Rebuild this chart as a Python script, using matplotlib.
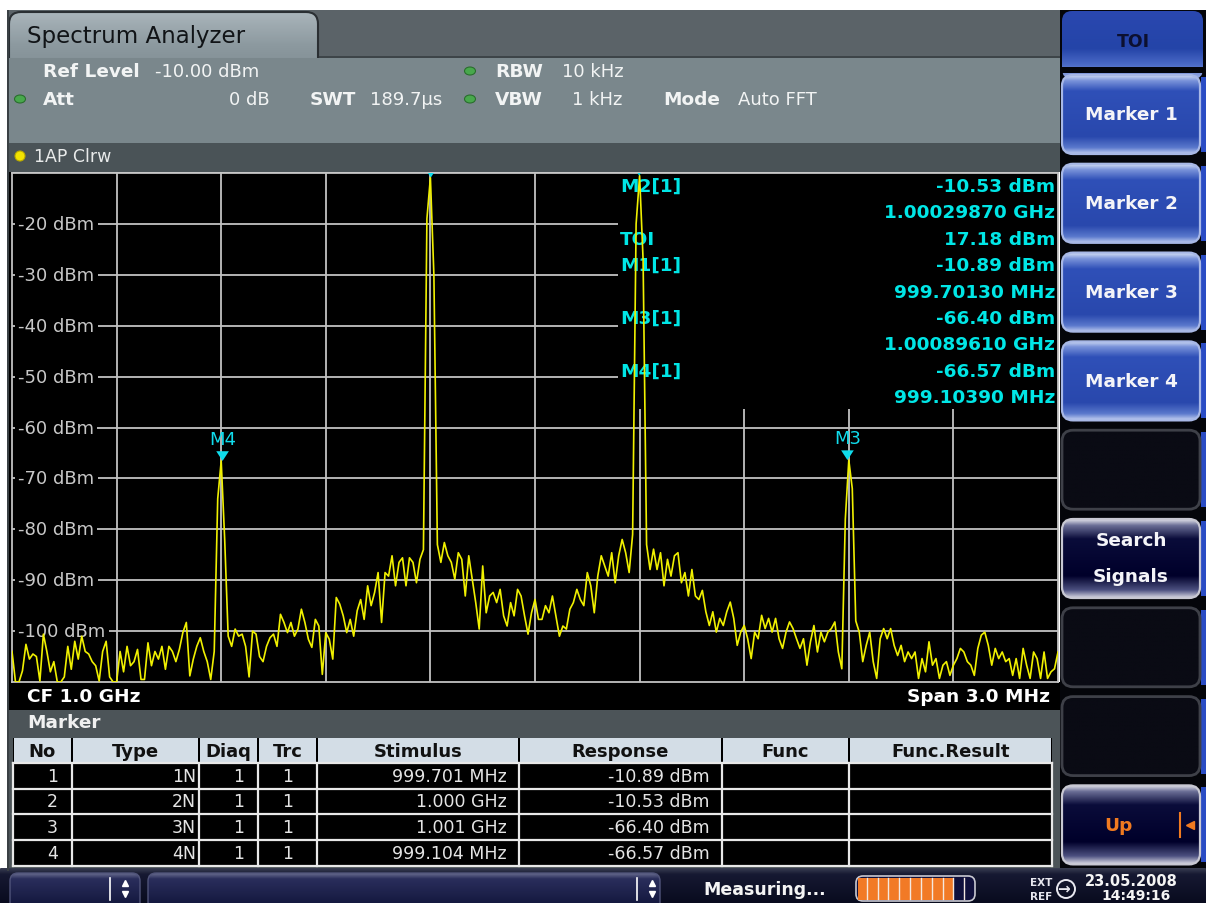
import numpy as np
import matplotlib
matplotlib.use("Agg")
import matplotlib.pyplot as plt
from matplotlib.patches import Rectangle, FancyBboxPatch, Ellipse, Circle
from matplotlib.colors import LinearSegmentedColormap
from matplotlib.transforms import Affine2D
from matplotlib.path import Path
from matplotlib.markers import MarkerStyle

plt.rcParams['font.family'] = ['DejaVu Sans']

# ---------------- data ----------------
center_mhz = 1000.0
span_mhz = 3.0
ref_level_dbm = -10.0
bottom_level_dbm = -110.0
ytick_levels = [-20, -30, -40, -50, -60, -70, -80, -90, -100]

# trace, 301 points, 10 kHz spacing from 998.50 MHz to 1001.50 MHz
trace_dbm = [
    -104, -110, -110, -107.8, -102.6, -105.5, -104.5, -105, -109.8, -100.6,
    -104, -108, -106, -110, -110, -109, -103, -107.5, -102, -105.5,
    -101, -104, -104.5, -106, -106.8, -109.8, -104, -102, -109, -110,
    -110, -104, -108, -103, -106.8, -106, -103.6, -109.5, -109.5, -102.3,
    -106.8, -104, -105.5, -103, -107.5, -103, -104, -106, -103.6, -100.3,
    -98.3, -108.8, -105.5, -103, -101.3, -104, -106, -109.5, -104, -74,
    -66.57, -82, -101, -103, -99.6, -101, -100.6, -103, -109, -100,
    -100.6, -105, -106, -103, -101.3, -100.6, -103, -96.7, -98.3, -100.3,
    -98.3, -101, -99.6, -95.7, -98.3, -101.6, -103.2, -97.7, -99, -108.5,
    -100.3, -101.6, -105.5, -93.4, -94.7, -97, -100.3, -97.7, -101, -96,
    -93.8, -97.7, -91.1, -95, -92.4, -88.5, -98.3, -88.5, -89.2, -85.2,
    -91.1, -86.5, -85.6, -91.1, -85.6, -86.5, -90.5, -85.9, -84, -19,
    -10.89, -30, -83, -86.5, -82.6, -85.2, -86.5, -89.8, -84.6, -85.9,
    -93.1, -85.2, -89.8, -94.4, -99.6, -87.2, -96.4, -93.1, -92.4, -94.4,
    -91.8, -97, -99, -94.4, -97, -91.8, -93.1, -97, -100.6, -96.4,
    -93.8, -97.7, -97.7, -95, -96.4, -93.1, -97, -101, -99, -99.6,
    -95.7, -94.4, -91.8, -93.8, -95, -88.5, -91.1, -96.4, -89.2, -85.2,
    -87.2, -89.2, -84.6, -90.5, -85.2, -82, -84.6, -88.5, -81, -20,
    -10.53, -27, -83, -87.9, -83.9, -87.9, -84.6, -91.1, -85.9, -89.2,
    -85.2, -84.6, -90.5, -88.5, -93.1, -87.9, -93.1, -93.8, -92, -96.2,
    -98.9, -96.2, -100.2, -97.5, -98.9, -96.2, -94.3, -97.5, -102.8, -100.2,
    -98.9, -101.5, -105.4, -100.2, -101.5, -96.9, -99.5, -97.5, -100.2, -97.5,
    -101.5, -103.4, -100.2, -98.2, -99.5, -101.5, -103.4, -101.5, -106.7, -102.1,
    -98.9, -104.1, -100.2, -102.1, -100.2, -99.5, -98.2, -104.1, -107.4, -78,
    -66.4, -72, -98, -100.2, -106, -102.8, -100.2, -106, -109.3, -101.5,
    -99.5, -101.5, -99.5, -102.8, -104.8, -102.8, -106, -104.1, -105.4, -104.1,
    -109.3, -105.4, -108, -102.1, -106.7, -105.4, -109.3, -106.7, -106, -108.7,
    -106.7, -105.4, -103.4, -104.1, -106, -106.7, -108.7, -103.4, -100.8, -100.2,
    -102.8, -106.7, -103.4, -105.4, -104.1, -106, -105.4, -108.7, -105.4, -109.3,
    -103.4, -106.7, -109.3, -104.1, -105.4, -109.3, -104.1, -109.3, -108, -107.4,
    -104.1,
]

marker_names = ["M1", "M2", "M3", "M4"]
marker_freq_mhz = [999.7013, 1000.2987, 1000.8961, 999.1039]
marker_dbm = [-10.89, -10.53, -66.40, -66.57]

info_labels = ["M2[1]", "", "TOI", "M1[1]", "", "M3[1]", "", "M4[1]", ""]
info_values = ["-10.53 dBm", "1.00029870 GHz", "17.18 dBm", "-10.89 dBm",
               "999.70130 MHz", "-66.40 dBm", "1.00089610 GHz", "-66.57 dBm",
               "999.10390 MHz"]

table_header = ["No", "Type", "Diaq", "Trc", "Stimulus", "Response", "Func", "Func.Result"]
tbl_no = ["1", "2", "3", "4"]
tbl_type = ["1N", "2N", "3N", "4N"]
tbl_diag = ["1", "1", "1", "1"]
tbl_trc = ["1", "1", "1", "1"]
tbl_stim = ["999.701 MHz", "1.000 GHz", "1.001 GHz", "999.104 MHz"]
tbl_resp = ["-10.89 dBm", "-10.53 dBm", "-66.40 dBm", "-66.57 dBm"]
tbl_func = ["", "", "", ""]
tbl_fres = ["", "", "", ""]

softkeys = ["Marker 1", "Marker 2", "Marker 3", "Marker 4", "", "Search\nSignals", "", "", "Up"]
softkey_kind = ["blue", "blue", "blue", "blue", "empty", "navy", "empty", "empty", "navy"]

progress_segments = 11
progress_done = 9

assert len(trace_dbm) == 301

# ---------------- figure ----------------
W, H = 1206, 904
fig = plt.figure(figsize=(W / 100, H / 100), dpi=100)
fig.patch.set_facecolor('white')
bg = fig.add_axes([0, 0, 1, 1])
bg.axis('off')
P = Affine2D().scale(1.0 / W, -1.0 / H).translate(0, 1) + fig.transFigure


def rect(x0, y0, x1, y1, color, z=1.0):
    bg.add_patch(Rectangle((x0, y0), x1 - x0, y1 - y0, facecolor=color,
                           edgecolor='none', zorder=z))


def gbox(x0, y0, x1, y1, stops, r=8, edge='none', lw=1.0, z=2.0):
    patch = FancyBboxPatch((x0, y0), x1 - x0, y1 - y0,
                           boxstyle=f"round,pad=0,rounding_size={r}",
                           facecolor='none', edgecolor=edge, linewidth=lw, zorder=z + 0.05)
    bg.add_patch(patch)
    cmap = LinearSegmentedColormap.from_list('g', stops)
    grad = np.linspace(0, 1, 256).reshape(-1, 1)
    im = bg.imshow(grad, cmap=cmap, extent=(x0, x1, y1, y0), origin='upper',
                   aspect='auto', zorder=z, interpolation='bilinear')
    im.set_clip_path(patch)
    return patch


def txt(x, y, s, color='white', size=13, weight='normal', ha='left', va='center', z=10, **kw):
    bg.text(x, y, s, color=color, fontsize=size, fontweight=weight, ha=ha, va=va, zorder=z, **kw)


# header area
rect(7, 11, 1060, 59, '#5b6368', 1)
gbox(9, 13, 318, 80, [(0, '#aab5bb'), (0.5, '#8c999f'), (1, '#7d8a90')], r=12,
     edge='#2a2f33', lw=1.5, z=1.5)
rect(7, 57, 1060, 59, '#3d4448', 1.2)
rect(7, 59, 1060, 144, '#7a878c', 2)
rect(7, 144, 1060, 173, '#4a5357', 2)
rect(7, 173, 12, 683, '#000000', 2)
rect(7, 683, 1060, 711, '#000000', 2)
rect(7, 711, 1060, 872, '#4c5458', 2)
rect(7, 11, 9, 872, '#3a4044', 2.1)

txt(27, 37, "Spectrum Analyzer", color='#111417', size=16.5)

# info panel
hdr_color = '#f2f4f4'
txt(43, 72, "Ref Level", weight='bold', size=13.3, color=hdr_color)
txt(155, 72, "-10.00 dBm", size=13, color=hdr_color)
txt(43, 100, "Att", weight='bold', size=13.3, color=hdr_color)
txt(270, 100, "0 dB", size=13, color=hdr_color, ha='right')
txt(310, 100, "SWT", weight='bold', size=13.3, color=hdr_color)
txt(370, 100, "189.7µs", size=13, color=hdr_color)
txt(495, 72, "RBW", weight='bold', size=13.3, color=hdr_color)
txt(562, 72, "10 kHz", size=13, color=hdr_color)
txt(495, 100, "VBW", weight='bold', size=13.3, color=hdr_color)
txt(572, 100, "1 kHz", size=13, color=hdr_color)
txt(663, 100, "Mode", weight='bold', size=13.3, color=hdr_color)
txt(738, 100, "Auto FFT", size=13, color=hdr_color)
for (cx, cy) in [(20, 100), (470, 72), (470, 100)]:
    bg.add_patch(Ellipse((cx, cy), 11, 8, facecolor='#48a84c', edgecolor='#2a6e2e', lw=0.8, zorder=5))
bg.add_patch(Circle((20, 157), 5, facecolor='#f2e200', edgecolor='#b8a800', lw=0.8, zorder=5))
txt(34, 157, "1AP Clrw", size=12.5, color='#e8eaea')

# below the plot
txt(27, 697, "CF 1.0 GHz", weight='bold', size=13.3)
txt(1050, 697, "Span 3.0 MHz", weight='bold', size=13.3, ha='right')
txt(27, 723, "Marker", weight='bold', size=13.3, color='#f0f0f0')

# marker table
cols = [13, 72, 199, 258, 317, 519, 722, 849, 1052]
row_edges = [739, 764, 790, 815, 841, 867]
rect(cols[0], row_edges[0], cols[-1], row_edges[-1], '#000000', 3)
for c0, c1 in zip(cols[:-1], cols[1:]):
    rect(c0 + 1, row_edges[0], c1 - 1, row_edges[1], '#d3dde6', 3.2)
for xc in cols:
    bg.plot([xc, xc], [row_edges[1], row_edges[-1]], color='#e8e8e8', lw=1.6, zorder=3.4)
for yr in row_edges[1:]:
    bg.plot([cols[0], cols[-1]], [yr, yr], color='#e8e8e8', lw=1.6, zorder=3.4)
for k, name in enumerate(table_header):
    txt((cols[k] + cols[k + 1]) / 2, 752, name, color='#111111', weight='bold', size=13, ha='center', z=11)
table_cols = [tbl_no, tbl_type, tbl_diag, tbl_trc, tbl_stim, tbl_resp, tbl_func, tbl_fres]
col_anchor = [('right', -14), ('right', -3), ('right', -14), ('center', 0),
              ('right', -12), ('right', -12), ('right', -12), ('right', -12)]
for k, colvals in enumerate(table_cols):
    ha, off = col_anchor[k]
    for r, val in enumerate(colvals):
        yc = (row_edges[r + 1] + row_edges[r + 2]) / 2
        xa = (cols[k] + cols[k + 1]) / 2 if ha == 'center' else cols[k + 1] + off
        txt(xa, yc, val, color='#e4e4e4', size=12.5, ha=ha, z=11)

# softkey panel
rect(1060, 11, 1206, 872, '#04050a', 1)
gbox(1062, 12, 1203, 80, [(0, '#2a48b0'), (0.55, '#2444a8'), (0.8, '#4d6cc8'), (1, '#9fb2e6')],
     r=10, z=2)
rect(1060, 68, 1206, 74, '#04050a', 2.2)
txt(1133, 42, "TOI", color='#0c1030', weight='bold', size=12.5, ha='center')

styles = {
    'blue': ([(0, '#d0dbf4'), (0.07, '#7a93da'), (0.2, '#2f50b8'), (0.78, '#2948ad'),
              (0.92, '#5a78cc'), (1, '#c0cdf0')], '#a8b8e6', 1.6),
    'navy': ([(0, '#e4e4ec'), (0.08, '#6a6e96'), (0.25, '#0a0c3a'), (0.72, '#00002a'),
              (0.9, '#4c5080'), (1, '#d8d8e2')], '#c8c8d2', 1.6),
    'empty': ([(0, '#0a0b14'), (1, '#0a0b14')], '#3e4048', 2.0),
}
for k, (label, kind) in enumerate(zip(softkeys, softkey_kind)):
    y0 = 76 + 88.8 * k
    y1 = y0 + 79
    stops, edge, lw = styles[kind]
    gbox(1062, y0, 1200, y1, stops, r=11, edge=edge, lw=lw, z=2)
    rect(1201, y0 + 2, 1206, y1 - 2, '#2a4cc4', 2)
    yc = (y0 + y1) / 2
    if label == "Up":
        txt(1118, yc, "Up", color='#f07a20', weight='bold', size=13.3, ha='center')
        bg.plot([1180, 1180], [yc - 12, yc + 12], color='#f07a20', lw=1.5, zorder=10)
        bg.plot([1190], [yc], marker='<', color='#f07a20', ms=6, zorder=10)
    elif "\n" in label:
        l1, l2 = label.split("\n")
        txt(1131, yc - 18, l1, weight='bold', size=13.3, ha='center', color='#f4f4f8')
        txt(1131, yc + 18, l2, weight='bold', size=13.3, ha='center', color='#f4f4f8')
    elif label:
        txt(1131, yc, label, weight='bold', size=13.3, ha='center', color='#f4f4f8')

# bottom status bar
gbox(0, 869, 1206, 910, [(0, '#3a3e52'), (0.15, '#161932'), (1, '#06081a')], r=1, z=2)
for (x0, x1, xd) in [(10, 140, 110), (148, 660, 637)]:
    gbox(x0, 874, x1, 912, [(0, '#6a6e90'), (0.15, '#2a2e5c'), (1, '#0e1236')], r=8,
         edge='#50547a', lw=1, z=2.5)
    bg.plot([xd, xd], [879, 901], color='white', lw=1.2, zorder=10)
    bg.plot([xd + 15], [884], marker='^', color='white', ms=5, zorder=10)
    bg.plot([xd + 15], [895], marker='v', color='white', ms=5, zorder=10)
txt(703, 890, "Measuring...", weight='bold', size=12.5, color='#f4f4f4')
pb_x0, pb_x1 = 856, 975
seg_w = (pb_x1 - pb_x0) / progress_segments
gbox(pb_x0, 877, pb_x1, 902, [(0, '#10103c'), (1, '#10103c')], r=7, edge='#c8c8d0', lw=1.2, z=3)
rect(pb_x0 + 2, 878.5, pb_x0 + seg_w * progress_done, 900.5, '#f27a26', 3.2)
for s in range(1, progress_segments):
    xs = pb_x0 + seg_w * s
    bg.plot([xs, xs], [879, 900], color='#f4e8e0', lw=1.0, zorder=3.3)
txt(1041, 883, "EXT", weight='bold', size=7.5, ha='center', color='#e8e8f0')
txt(1041, 897, "REF", weight='bold', size=7.5, ha='center', color='#e8e8f0')
bg.add_patch(Circle((1066, 890), 9, facecolor='none', edgecolor='#e8e8f0', lw=1.4, zorder=10))
txt(1063, 889, "→", size=11, ha='center', color='#e8e8f0', weight='bold')
txt(1131, 882, "23.05.2008", weight='bold', size=10.5, ha='center', color='#f4f4f4')
txt(1136, 896, "14:49:16", weight='bold', size=10, ha='center', color='#f4f4f4')

bg.set_xlim(0, W)
bg.set_ylim(H, 0)

# ---------------- spectrum axes ----------------
ax = fig.add_axes([12 / W, 1 - 683 / H, 1046 / W, 509 / H])
ax.set_facecolor('black')
f0, f1 = center_mhz - span_mhz / 2, center_mhz + span_mhz / 2
freq = np.linspace(f0, f1, len(trace_dbm))
grid_c = '#c2c2c2'
for lev in ytick_levels:
    ax.axhline(lev, color=grid_c, lw=1.3, zorder=0.5)
    ax.annotate(f"{lev} dBm", xy=(0, lev), xycoords=ax.get_yaxis_transform(),
                xytext=(6, 0), textcoords='offset pixels', ha='left', va='center',
                color='#c8c8c8', fontsize=13, zorder=1.0,
                bbox=dict(facecolor='black', edgecolor='none', pad=2.5))
for xv in np.linspace(f0, f1, 11)[1:-1]:
    ax.axvline(xv, color=grid_c, lw=1.3, zorder=1.2)
# marker info box
ax.add_patch(Rectangle((618, 174), 440, 236, transform=P, facecolor='black',
                       edgecolor='none', zorder=1.5))
cyan = '#00e6e6'
for k, (lab, val) in enumerate(zip(info_labels, info_values)):
    yy = 187 + 26.4 * k
    if lab:
        ax.text(620, yy, lab, transform=P, color=cyan, fontsize=13.3, fontweight='bold',
                ha='left', va='center', zorder=1.6)
    ax.text(1055, yy, val, transform=P, color=cyan, fontsize=13.3, fontweight='bold',
            ha='right', va='center', zorder=1.6)

ax.plot(freq, trace_dbm, color='#f0f000', lw=1.2, zorder=3)

tri = MarkerStyle(Path([(-0.65, 1.0), (0.65, 1.0), (0.0, 0.0), (-0.65, 1.0)],
                       [Path.MOVETO, Path.LINETO, Path.LINETO, Path.CLOSEPOLY]))
ax.scatter(marker_freq_mhz, marker_dbm, marker=tri, s=14 ** 2, color='#10dcec',
           edgecolors='none', zorder=4, clip_on=True)
for name, fm, lv in zip(marker_names, marker_freq_mhz, marker_dbm):
    ax.annotate(name, xy=(fm, lv), xytext=(0, 17), textcoords='offset pixels',
                ha='center', va='baseline', color='#10dcec', fontsize=13,
                zorder=4, annotation_clip=True, clip_on=True)

ax.set_xlim(f0, f1)
ax.set_ylim(bottom_level_dbm, ref_level_dbm)
ax.set_xticks([])
ax.set_yticks([])
for sp in ax.spines.values():
    sp.set_color(grid_c)
    sp.set_linewidth(1.3)

fig.savefig("out.png", dpi=100, facecolor='white')
